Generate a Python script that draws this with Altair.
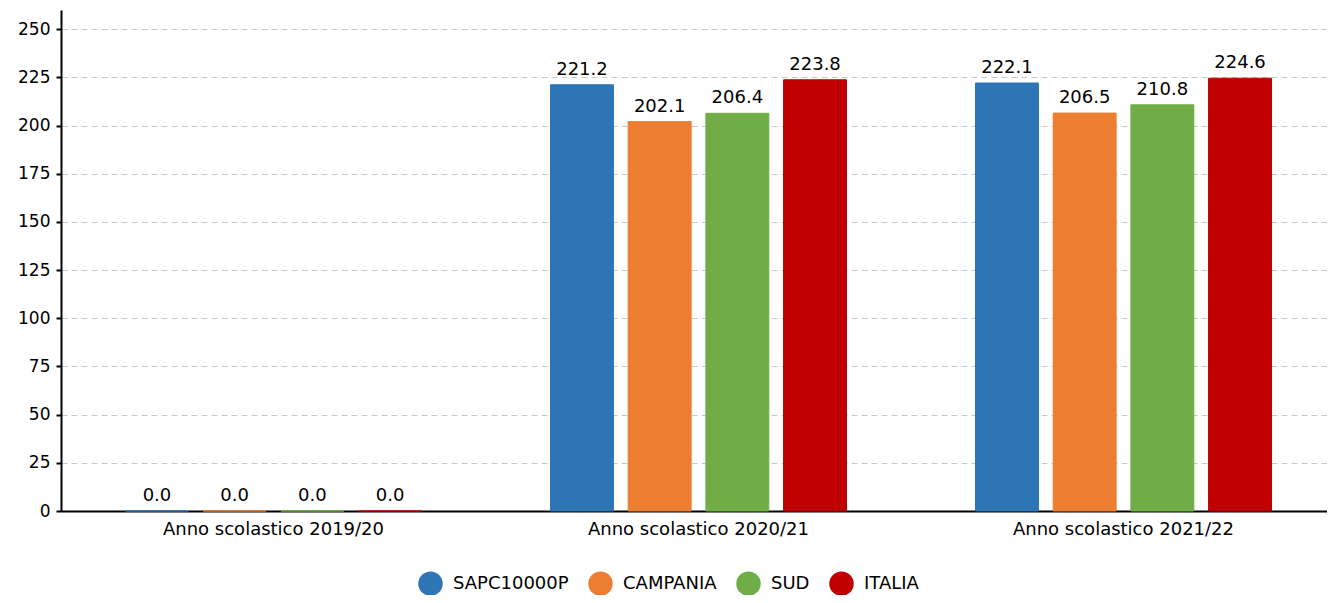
import altair as alt
import pandas as pd

years = ["Anno scolastico 2019/20", "Anno scolastico 2020/21", "Anno scolastico 2021/22"]
series = ["SAPC10000P", "CAMPANIA", "SUD", "ITALIA"]
colors = ["#2E75B6", "#ED7D31", "#70AD47", "#C00000"]
values = {
    "SAPC10000P": [0.0, 221.2, 222.1],
    "CAMPANIA": [0.0, 202.1, 206.5],
    "SUD": [0.0, 206.4, 210.8],
    "ITALIA": [0.0, 223.8, 224.6],
}

rows = []
for s in series:
    for y, v in zip(years, values[s]):
        rows.append({"anno": y, "serie": s, "valore": v, "label": f"{v:.1f}"})
df = pd.DataFrame(rows)

FONT = "DejaVu Sans"

x = alt.X("anno:N", sort=years, title=None,
          scale=alt.Scale(paddingInner=0, paddingOuter=0),
          axis=alt.Axis(labelAngle=0, labelFontSize=18, labelColor="#000", labelFont=FONT,
                        labelLimit=400, domainColor="#000", domainWidth=2, ticks=False,
                        labelPadding=9))
xo = alt.XOffset("serie:N", sort=series,
                 scale=alt.Scale(paddingInner=0.19, paddingOuter=0.83))
y = alt.Y("valore:Q", title=None,
          scale=alt.Scale(domain=[0, 260], nice=False),
          axis=alt.Axis(values=list(range(0, 260, 25)), labelFontSize=17, labelColor="#000",
                        labelFont=FONT, domainColor="#000", domainWidth=2, tickColor="#000",
                        tickWidth=2, tickSize=5, labelPadding=6,
                        gridColor="#c8c8c8", gridDash=[6, 4], gridWidth=1))
color = alt.Color("serie:N", sort=series,
                  scale=alt.Scale(domain=series, range=colors),
                  legend=alt.Legend(title=None, orient="none", direction="horizontal",
                                    legendX=357, legendY=561, padding=0,
                                    symbolType="circle", symbolSize=600, symbolStrokeWidth=0,
                                    labelFontSize=18, labelFont=FONT, labelColor="#000",
                                    labelOffset=10, columnPadding=19, symbolOpacity=1))

bars = alt.Chart(df).mark_bar(strokeWidth=1).encode(
    x=x, xOffset=xo, y=y, color=color,
    stroke=alt.Stroke("serie:N", sort=series, scale=alt.Scale(domain=series, range=colors), legend=None)
)
text = alt.Chart(df).mark_text(dy=-6, baseline="bottom", fontSize=18, font=FONT, color="#000").encode(
    x=alt.X("anno:N", sort=years), xOffset=alt.XOffset("serie:N", sort=series),
    y="valore:Q", text="label:N"
)

chart = alt.layer(bars, text).properties(
    width=1275, height=501,
    autosize=alt.AutoSizeParams(type="none"),
    padding={"left": 53, "top": 2, "right": -9, "bottom": 84},
).configure_view(stroke=None).configure_axisX(grid=False)

chart.save("out.html", embed_options={"renderer": "svg", "actions": False})
